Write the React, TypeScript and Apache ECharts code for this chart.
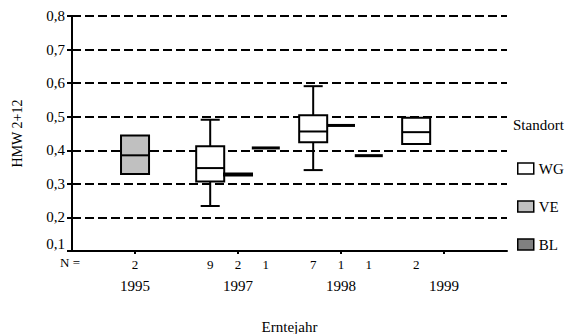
import React, { useEffect, useRef } from "react";
import * as echarts from "echarts";

const years = ["1995", "1997", "1998", "1999"];
const standorte = ["WG", "VE", "BL"];
const standortColors = ["#ffffff", "#c0c0c0", "#808080"];
const yTicks = [0.1, 0.2, 0.3, 0.4, 0.5, 0.6, 0.7, 0.8];

// [min, q1, median, q3, max] per Erntejahr (null = no data)
const wgBoxes = [
  null,
  [0.234, 0.307, 0.347, 0.412, 0.491],
  [0.341, 0.424, 0.456, 0.504, 0.591],
  [0.419, 0.419, 0.454, 0.497, 0.497],
];
const veBoxes = [
  [0.329, 0.329, 0.385, 0.444, 0.444],
  [0.325, 0.325, 0.328, 0.331, 0.331],
  [0.474, 0.474, 0.474, 0.474, 0.474],
  null,
];
const blBoxes = [
  null,
  [0.407, 0.407, 0.407, 0.407, 0.407],
  [0.384, 0.384, 0.384, 0.384, 0.384],
  null,
];
const wgN = [0, 9, 7, 2];
const veN = [2, 2, 1, 0];
const blN = [0, 1, 1, 0];

const FONT = "'Liberation Serif', 'Times New Roman', serif";
const boxWidth = 0.272;
const capWidth = 0.185;
const offsets = [-0.27, 0, 0.27];

function buildData(boxes: (number[] | null)[], ns: number[]) {
  const out: any[] = [];
  boxes.forEach((b, i) => {
    if (b) out.push([i, b[0], b[1], b[2], b[3], b[4], ns[i]]);
  });
  return out;
}

function makeRender(offset: number, color: string) {
  return (params: any, api: any) => {
    const xi = api.value(0) + offset;
    const mn = api.value(1), q1 = api.value(2), md = api.value(3), q3 = api.value(4), mx = api.value(5);
    const n = api.value(6);
    const w = api.size([boxWidth, 0])[0];
    const cw = api.size([capWidth, 0])[0];
    const pMin = api.coord([xi, mn]);
    const pQ1 = api.coord([xi, q1]);
    const pMd = api.coord([xi, md]);
    const pQ3 = api.coord([xi, q3]);
    const pMx = api.coord([xi, mx]);
    const pAxis = api.coord([xi, 0.1]);
    const cx = pMd[0];
    const lineStyle = { stroke: "#000", lineWidth: 2 };
    const children: any[] = [];
    if (q3 - q1 < 1e-9) {
      children.push({
        type: "line",
        shape: { x1: cx - w / 2, y1: pMd[1], x2: cx + w / 2, y2: pMd[1] },
        style: { stroke: "#000", lineWidth: 3 },
      });
    } else {
      if (mx > q3) {
        children.push({ type: "line", shape: { x1: cx, y1: pQ3[1], x2: cx, y2: pMx[1] }, style: lineStyle });
        children.push({ type: "line", shape: { x1: cx - cw / 2, y1: pMx[1], x2: cx + cw / 2, y2: pMx[1] }, style: lineStyle });
      }
      if (mn < q1) {
        children.push({ type: "line", shape: { x1: cx, y1: pQ1[1], x2: cx, y2: pMin[1] }, style: lineStyle });
        children.push({ type: "line", shape: { x1: cx - cw / 2, y1: pMin[1], x2: cx + cw / 2, y2: pMin[1] }, style: lineStyle });
      }
      children.push({
        type: "rect",
        shape: { x: cx - w / 2, y: pQ3[1], width: w, height: pQ1[1] - pQ3[1] },
        style: { fill: color, stroke: "#000", lineWidth: 2 },
      });
      children.push({
        type: "line",
        shape: { x1: cx - w / 2, y1: pMd[1], x2: cx + w / 2, y2: pMd[1] },
        style: lineStyle,
      });
    }
    children.push({
      type: "text",
      x: cx,
      y: pAxis[1] + 13,
      style: { text: String(n), fill: "#000", font: "13px " + FONT, align: "center", verticalAlign: "middle" },
    });
    return { type: "group", children };
  };
}

export default function App() {
  const ref = useRef<HTMLDivElement>(null);
  useEffect(() => {
    document.body.style.margin = "0";
    const chart = echarts.init(ref.current!, null, { renderer: "svg" });
    const allBoxes = [wgBoxes, veBoxes, blBoxes];
    const allN = [wgN, veN, blN];
    chart.setOption({
      animation: false,
      backgroundColor: "#fff",
      textStyle: { fontFamily: FONT, color: "#000" },
      grid: { left: 72, right: 66, top: 16, bottom: 83, outerBoundsMode: "none", containLabel: false },
      legend: {
        orient: "vertical",
        left: 512,
        top: 156,
        icon: "rect",
        itemWidth: 16,
        itemHeight: 11,
        itemGap: 23,
        data: standorte,
        textStyle: { fontFamily: FONT, fontSize: 15, color: "#000" },
        itemStyle: { borderColor: "#000", borderWidth: 1.5 },
      },
      graphic: [
        { type: "text", left: 513, top: 117, style: { text: "Standort", font: "15px " + FONT, fill: "#000" } },
        { type: "text", left: 60, top: 256, style: { text: "N =", font: "13px " + FONT, fill: "#000" } },
      ],
      xAxis: {
        type: "value",
        min: -0.612,
        max: 3.612,
        splitLine: { show: false },
        axisLine: { onZero: false, lineStyle: { color: "#000", width: 2 } },
        axisTick: { customValues: [0, 1, 2, 3], length: 3, lineStyle: { color: "#000", width: 2 } },
        axisLabel: {
          customValues: [0, 1, 2, 3],
          formatter: (v: number) => years[Math.round(v)],
          margin: 27,
          fontSize: 15,
          color: "#000",
          fontFamily: FONT,
        },
        name: "Erntejahr",
        nameLocation: "middle",
        nameGap: 68,
        nameTextStyle: { fontSize: 15, color: "#000", fontFamily: FONT },
      },
      yAxis: {
        type: "value",
        min: yTicks[0],
        max: yTicks[yTicks.length - 1],
        interval: 0.1,
        axisLine: { show: true, onZero: false, lineStyle: { color: "#000", width: 2 } },
        axisTick: { show: true, length: 5, lineStyle: { color: "#000", width: 2 } },
        axisLabel: {
          formatter: (v: number) => v.toFixed(1).replace(".", ","),
          fontSize: 15,
          color: "#000",
          margin: 7,
          fontFamily: FONT,
          verticalAlignMinLabel: "bottom",
        },
        splitLine: { show: true, lineStyle: { color: "#000", width: 2, type: [9, 4] } },
        name: "HMW 2+12",
        nameLocation: "middle",
        nameGap: 48,
        nameTextStyle: { fontSize: 14, color: "#000", fontFamily: FONT },
      },
      series: standorte.map((s, k) => ({
        name: s,
        type: "custom",
        itemStyle: { color: standortColors[k] },
        renderItem: makeRender(offsets[k], standortColors[k]),
        encode: { x: 0, y: [1, 2, 3, 4, 5] },
        data: buildData(allBoxes[k] as any, allN[k]),
        clip: false,
      })),
    });
    return () => chart.dispose();
  }, []);
  return <div ref={ref} style={{ width: 573, height: 334 }} />;
}
